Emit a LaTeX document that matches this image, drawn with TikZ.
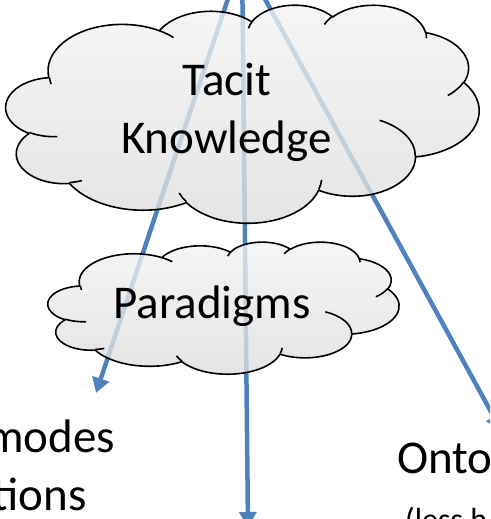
\documentclass[tikz,border=0pt]{standalone}
\usepackage{fontspec}
\setmainfont{Carlito}
\usetikzlibrary{arrows.meta}
\definecolor{arrowblue}{HTML}{4F81BD}
\newcommand{\pparc}[4]{arc[x radius=#1, y radius=#2, start angle={atan2((#1)*sin(#3),(#2)*cos(#3))}, delta angle={mod(atan2((#1)*sin((#3)+(#4)),(#2)*cos((#3)+(#4)))-atan2((#1)*sin(#3),(#2)*cos(#3))+720,360)}]}
\def\cloudouter{(390,1437)
 \pparc{675.3}{919.0}{-190.4875}{123.7805}
 \pparc{533.3}{726.7}{-144.1024}{89.9452}
 \pparc{436.5}{594.5}{-145.8079}{99.7230}
 \pparc{485.7}{659.5}{-130.9861}{117.2417}
 \pparc{533.3}{727.3}{-78.7089}{109.0269}
 \pparc{677.5}{922.0}{-46.2673}{130.2690}
 \pparc{578.5}{786.7}{0.6250}{114.0333}
 \pparc{675.2}{921.5}{22.4516}{115.1726}
 \pparc{772.0}{1054.3}{66.2426}{75.7110}
 \pparc{436.0}{591.8}{-274.9421}{146.7356}
 \pparc{434.5}{594.5}{-246.8285}{152.5189} -- cycle}
\def\cloudinner{(469.3,2617.7) \pparc{434.5}{594.5}{86.7420}{26.4295}
 (692.8,3489.9) \pparc{436.0}{591.8}{73.6105}{11.4475}
 (1647.8,3909.0) \pparc{675.2}{921.5}{137.6242}{14.0811}
 (2882.7,3475.1) \pparc{675.2}{921.5}{6.4533}{15.9984}
 (3412.9,2295.4) \pparc{578.5}{786.7}{-70.2924}{70.9174}
 (4179.8,1535.4) \pparc{533.3}{727.3}{30.3180}{27.7515}
 (3832.4,542.6) \pparc{485.7}{659.5}{-13.7443}{14.8589}
 (2907.8,395.2) \pparc{485.7}{659.5}{-149.1815}{18.1954}
 (2214.1,472.0) \pparc{436.5}{594.5}{-163.4943}{17.6864}
 (1400.0,519.2) \pparc{675.3}{919.0}{-66.7070}{12.3194}
 (412.7,1578.9) \pparc{675.3}{919.0}{162.0358}{10.9875}}
\tikzset{
  conn/.style={draw=arrowblue,line width=4.5pt,-{Triangle[length=15pt,width=17pt]}},
  cloudfill/.style={top color=gray!9,bottom color=gray!27,fill opacity=0.78},
  cloudline/.style={draw=black,line width=1.6pt,line join=round},
  bigtext/.style={font=\fontsize{47}{50}\selectfont,inner sep=0pt,text=black},
  smalltext/.style={font=\fontsize{32}{36}\selectfont,inner sep=0pt,text=black},
}
\begin{document}
\begin{tikzpicture}[x=1pt,y=-1pt]
\useasboundingbox (0,0) rectangle (490,519);
\clip (0,0) rectangle (490,519);
\coordinate (src) at (242,-43);
\coordinate (tl) at (96,393);
\coordinate (tm) at (248,527);
\coordinate (tr) at (501,430);
\draw[conn] (src) -- (tl);
\draw[conn] (src) -- (tm);
\draw[conn] (src) -- (tr);
% Tacit Knowledge cloud
\begin{scope}[xshift=6pt,yshift=-4.5pt,x=0.109491pt,y=-0.050463pt]
  \shade[cloudfill] \cloudouter;
  \draw[cloudline] \cloudouter;
  \draw[cloudline] \cloudinner;
\end{scope}
% Paradigms cloud
\begin{scope}[xshift=48pt,yshift=-241.7pt,x=0.081250pt,y=-0.030556pt]
  \shade[cloudfill] \cloudouter;
  \draw[cloudline] \cloudouter;
  \draw[cloudline] \cloudinner;
\end{scope}
\node[bigtext,anchor=base] (t1) at (227,95) {Tacit};
\node[bigtext,anchor=base] (t2) at (226.5,153) {Knowledge};
\node[bigtext,anchor=base] (t3) at (212,318) {Paradigms};
\node[bigtext,anchor=base east] (m1) at (115,452) {modes};
\node[bigtext,anchor=base east] (m2) at (87,510) {tions};
\node[bigtext,anchor=base west] (o1) at (397,473) {Onto};
\node[smalltext,anchor=base west] (o2) at (405,530) {(less h};
\end{tikzpicture}
\end{document}
